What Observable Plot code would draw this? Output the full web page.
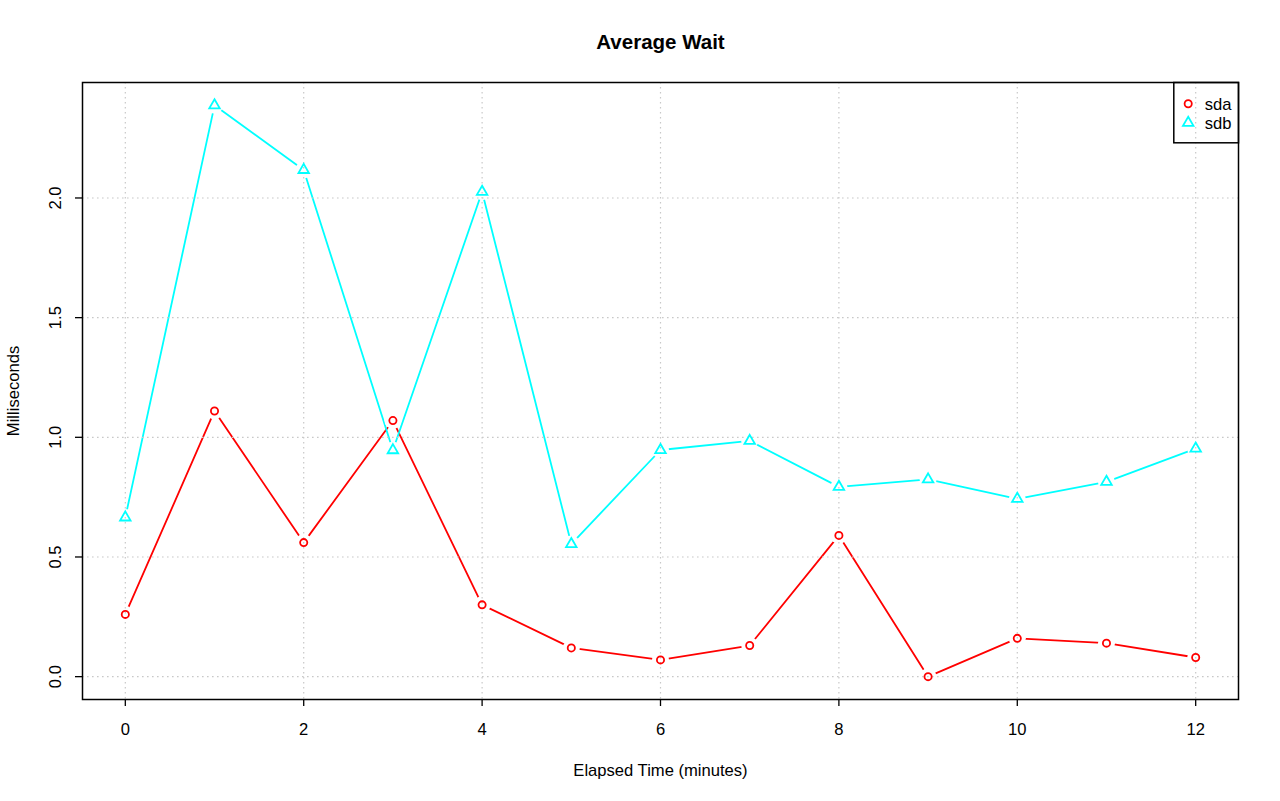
<!DOCTYPE html>
<html>
<head>
<meta charset="utf-8">
<script src="https://cdn.jsdelivr.net/npm/d3@7"></script>
<script src="https://cdn.jsdelivr.net/npm/@observablehq/plot@0.6"></script>
<style>
  html, body { margin: 0; padding: 0; background: #fff; }
  #chart svg { display: block; }
</style>
</head>
<body>
<div id="chart"></div>
<script>
// ---- data ----
const minutes = [0, 1, 2, 3, 4, 5, 6, 7, 8, 9, 10, 11, 12];
const sda = [0.26, 1.11, 0.56, 1.07, 0.30, 0.12, 0.07, 0.13, 0.59, 0.00, 0.16, 0.14, 0.08];
const sdb = [0.665, 2.387, 2.117, 0.946, 2.026, 0.554, 0.947, 0.985, 0.793, 0.824, 0.743, 0.814, 0.953];
const seriesNames = ["sda", "sdb"];
const seriesColors = ["#FF0000", "#00FFFF"];
const seriesSymbols = ["circle", "triangle"];
const xTicks = [0, 2, 4, 6, 8, 10, 12];
const yTicks = [0, 0.5, 1.0, 1.5, 2.0];
const titleText = "Average Wait";
const xLabel = "Elapsed Time (minutes)";
const yLabel = "Milliseconds";

// ---- table ----
const rows = [];
minutes.forEach((m, i) => {
  rows.push({minute: m, value: sda[i], series: "sda"});
  rows.push({minute: m, value: sdb[i], series: "sdb"});
});

// R-style 4% axis expansion
const xExt = d3.extent(minutes);
const yExt = d3.extent([...sda, ...sdb]);
const xPad = (xExt[1] - xExt[0]) * 0.04;
const yPad = (yExt[1] - yExt[0]) * 0.04;

const font = "'Liberation Sans', Arial, Helvetica, sans-serif";
const fs = 16.6;
const gridStyle = {stroke: "#C8C8C8", strokeOpacity: 1, strokeWidth: 1.2, strokeDasharray: "1.6,3.4"};

const legendMarks = [];
seriesNames.forEach((s, i) => {
  legendMarks.push(Plot.dot([s], {
    frameAnchor: "top-right", dx: -50.3, dy: 21.3 + i * 19,
    symbol: seriesSymbols[i], r: i === 0 ? 3.6 : 3.9,
    stroke: seriesColors[i], strokeWidth: 1.8, fill: "none"
  }));
  legendMarks.push(Plot.text([s], {
    text: d => d, frameAnchor: "top-right", dx: -33.7, dy: 27 + i * 19.2,
    textAnchor: "start", lineAnchor: "bottom", fontSize: fs, fill: "black"
  }));
});

const chart = Plot.plot({
  width: 1280,
  height: 801,
  marginLeft: 82,
  marginRight: 42,
  marginTop: 82,
  marginBottom: 102,
  style: {fontFamily: font, fontSize: fs + "px", background: "white", color: "black"},
  x: {domain: [xExt[0] - xPad, xExt[1] + xPad], axis: null},
  y: {domain: [yExt[0] - yPad, yExt[1] + yPad], axis: null},
  color: {domain: seriesNames, range: seriesColors},
  marks: [
    // series lines
    Plot.line(rows, {x: "minute", y: "value", z: "series", stroke: "series", strokeWidth: 1.8}),
    // white gaps around points (R type = "b")
    Plot.dot(rows, {x: "minute", y: "value", r: 8.5, fill: "white", stroke: "white", strokeWidth: 0}),
    // grid
    Plot.ruleX(xTicks, {x: d => d, ...gridStyle}),
    Plot.ruleY(yTicks, {y: d => d, ...gridStyle}),
    // symbols
    Plot.dot(rows.filter(d => d.series === "sda"), {x: "minute", y: "value", r: 3.6, symbol: () => "circle", stroke: seriesColors[0], strokeWidth: 1.8, fill: "none"}),
    Plot.dot(rows.filter(d => d.series === "sdb"), {x: "minute", y: "value", r: 3.9, symbol: () => "triangle", stroke: seriesColors[1], strokeWidth: 1.8, fill: "none"}),
    // box
    Plot.frame({stroke: "black", strokeWidth: 1.5}),
    // axes ticks
    Plot.axisX({ticks: xTicks, tickSize: 7, tickPadding: 17, tickFormat: d => String(d), fontSize: fs, label: null, stroke: "black", strokeWidth: 1.3}),
    Plot.axisY({ticks: yTicks, tickSize: 7, tickFormat: () => "", label: null, stroke: "black", strokeWidth: 1.3}),
    Plot.text(yTicks, {y: d => d, text: d => d3.format(".1f")(d), frameAnchor: "left", dx: -22, rotate: -90, textAnchor: "middle", lineAnchor: "bottom", fontSize: fs, fill: "black"}),
    // titles
    Plot.text([titleText], {text: d => d, frameAnchor: "top", dy: -34, lineAnchor: "bottom", textAnchor: "middle", fontWeight: "bold", fontSize: 20.5, fill: "black"}),
    Plot.text([xLabel], {text: d => d, frameAnchor: "bottom", dy: 76, lineAnchor: "bottom", textAnchor: "middle", fontSize: fs, fill: "black"}),
    Plot.text([yLabel], {text: d => d, frameAnchor: "left", dx: -64, rotate: -90, lineAnchor: "bottom", textAnchor: "middle", fontSize: fs, fill: "black"}),
    // legend
    Plot.frame({insetLeft: 1091.3, insetBottom: 556.7, stroke: "black", strokeWidth: 1.5}),
    ...legendMarks
  ]
});
document.getElementById("chart").appendChild(chart);
</script>
</body>
</html>
